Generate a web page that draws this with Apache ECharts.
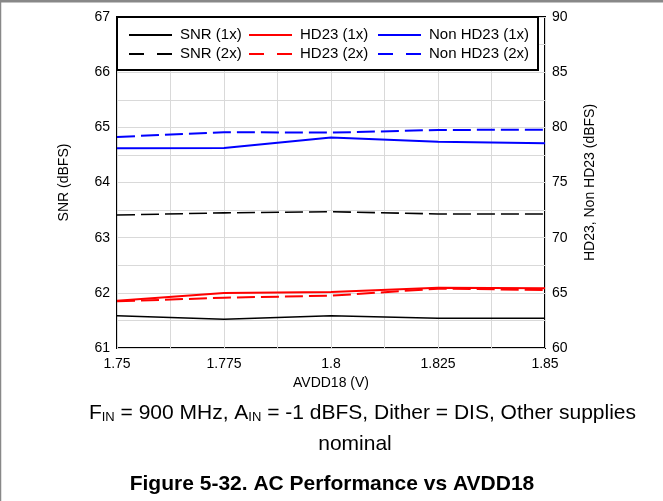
<!DOCTYPE html>
<html>
<head>
<meta charset="utf-8">
<script src="https://cdn.jsdelivr.net/npm/echarts@6/dist/echarts.min.js"></script>
<style>
html,body{margin:0;padding:0;background:#fff;}
#chart{width:663px;height:501px;}
</style>
</head>
<body>
<div id="chart"></div>
<script>
// AVDD18 sweep, volts
var avdd = [1.75, 1.775, 1.8, 1.825, 1.85];
// left axis, dBFS
var snr1x = [61.585, 61.52, 61.585, 61.54, 61.54];
var snr2x = [63.41, 63.45, 63.47, 63.43, 63.43];
// right axis, dBFS
var hd1x = [64.29, 64.99, 65.08, 65.47, 65.41];
var hd2x = [64.23, 64.56, 64.74, 65.38, 65.26];
var nonhd1x = [78.10, 78.13, 79.07, 78.70, 78.56];
var nonhd2x = [79.13, 79.56, 79.52, 79.76, 79.79];

var font = 'Liberation Sans, Arial, sans-serif';

function pts(ys){
	var out = [];
	for (var i = 0; i < avdd.length; i++) out.push([avdd[i], ys[i]]);
	return out;
}
function mk(name, ys, color, dashed, axis, w){
	return {
		name: name,
		type: 'line',
		yAxisIndex: axis,
		data: pts(ys),
		symbol: 'none',
		animation: false,
		z: 5,
		lineStyle: {color: color, width: w, type: dashed ? [18, 6] : 'solid'},
		itemStyle: {color: color}
	};
}
function leg(x, n1, n2){
	return {
		left: x, top: 27, padding: 0,
		orient: 'vertical',
		itemWidth: 43, itemHeight: 14, itemGap: 3,
		z: 20,
		selectedMode: false,
		itemStyle: {opacity: 0},
		textStyle: {fontFamily: font, fontSize: 15, lineHeight: 16, color: '#000', padding: [0, 0, 0, 3]},
		data: [n1, {name: n2, lineStyle: {type: [15, 13]}}]
	};
}

var myChart = echarts.init(document.getElementById('chart'));
var option = {
	backgroundColor: '#fff',
	animation: false,
	grid: {left: 117, right: 118, top: 17, bottom: 153, show: true, borderColor: '#000', borderWidth: 2, backgroundColor: '#fff', containLabel: false},
	legend: [
		leg(128, 'SNR (1x)', 'SNR (2x)'),
		leg(248, 'HD23 (1x)', 'HD23 (2x)'),
		leg(377, 'Non HD23 (1x)', 'Non HD23 (2x)')
	],
	xAxis: {
		type: 'value', min: 1.75, max: 1.85, interval: 0.025,
		name: 'AVDD18 (V)', nameLocation: 'middle', nameGap: 26,
		nameTextStyle: {fontFamily: font, fontSize: 14, color: '#000'},
		axisLine: {show: false}, axisTick: {show: false},
		axisLabel: {fontFamily: font, fontSize: 14, color: '#000', margin: 9},
		splitLine: {show: true, lineStyle: {color: '#d9d9d9', width: 1}},
		minorTick: {show: false, splitNumber: 2},
		minorSplitLine: {show: true, lineStyle: {color: '#d9d9d9', width: 1}}
	},
	yAxis: [{
		type: 'value', min: 61, max: 67, interval: 1,
		name: 'SNR (dBFS)', nameLocation: 'middle', nameGap: 46,
		nameTextStyle: {fontFamily: font, fontSize: 14, color: '#000'},
		axisLine: {show: false}, axisTick: {show: false},
		axisLabel: {fontFamily: font, fontSize: 14, color: '#000', margin: 7},
		splitLine: {show: true, lineStyle: {color: '#d9d9d9', width: 1}},
		minorTick: {show: false, splitNumber: 2},
		minorSplitLine: {show: true, lineStyle: {color: '#d9d9d9', width: 1}}
	}, {
		type: 'value', min: 60, max: 90, interval: 5, position: 'right',
		name: 'HD23, Non HD23 (dBFS)', nameLocation: 'middle', nameGap: 38,
		nameTextStyle: {fontFamily: font, fontSize: 14, color: '#000'},
		axisLine: {show: false}, axisTick: {show: false},
		axisLabel: {fontFamily: font, fontSize: 14, color: '#000', margin: 7},
		splitLine: {show: false}
	}],
	series: [
		mk('SNR (1x)', snr1x, '#000', false, 0, 1.6),
		mk('SNR (2x)', snr2x, '#000', true, 0, 1.6),
		mk('HD23 (1x)', hd1x, '#ff0000', false, 1, 2),
		mk('HD23 (2x)', hd2x, '#ff0000', true, 1, 2),
		mk('Non HD23 (1x)', nonhd1x, '#0000ff', false, 1, 2),
		mk('Non HD23 (2x)', nonhd2x, '#0000ff', true, 1, 2)
	],
	graphic: [
		{type: 'rect', z: 10, shape: {x: 117, y: 17, width: 421, height: 53}, style: {fill: '#fff', stroke: '#000', lineWidth: 2}},
		{type: 'line', z: 30, shape: {x1: 0, y1: 1, x2: 663, y2: 1}, style: {stroke: '#888', lineWidth: 3}},
		{type: 'line', z: 30, shape: {x1: 0.5, y1: 0, x2: 0.5, y2: 501}, style: {stroke: '#888', lineWidth: 1.5}},
		{type: 'text', z: 30, x: 636, y: 413, style: {
			text: 'F{s|IN} = 900 MHz, A{s|IN} = -1 dBFS, Dither = DIS, Other supplies',
			fontFamily: font, fontSize: 21, fill: '#000', align: 'right', verticalAlign: 'middle',
			rich: {s: {fontFamily: font, fontSize: 13, verticalAlign: 'bottom', padding: [9, 0, 0, 0]}}
		}},
		{type: 'text', z: 30, x: 355, y: 444, style: {text: 'nominal', fontFamily: font, fontSize: 21, fill: '#000', align: 'center', verticalAlign: 'middle'}},
		{type: 'text', z: 30, x: 332, y: 484, style: {text: 'Figure 5-32. AC Performance vs AVDD18', fontFamily: font, fontSize: 21, fontWeight: 'bold', fill: '#000', align: 'center', verticalAlign: 'middle'}}
	]
};
myChart.setOption(option);
</script>
</body>
</html>
